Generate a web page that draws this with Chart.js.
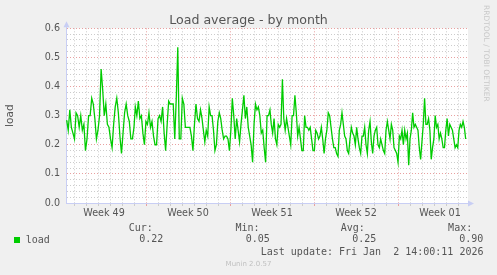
<!DOCTYPE html>
<html>

<head>
    <script src="https://cdn.jsdelivr.net/npm/chart.js@4.4.0/dist/chart.umd.min.js"></script>
    <style>
        body { margin: 0; background: #f0f0f0; }
        #wrap { position: relative; width: 497px; height: 275px; overflow: hidden; }
        #myChart { position: absolute; left: 0; top: 0; }
        .mono { position: absolute; font-family: "DejaVu Sans Mono", monospace; font-size: 10px; line-height: 12px; color: #555; white-space: pre; }
        .swatch { position: absolute; left: 14px; top: 237px; width: 6px; height: 6px; background: #00cc00; }
        #version { position: absolute; left: 0; width: 497px; top: 260px; text-align: center; font-family: "DejaVu Sans", sans-serif; font-size: 7px; line-height: 8px; color: #c0c0c0; }
        #rrd { position: absolute; left: 482px; top: 5px; writing-mode: vertical-rl; font-family: "DejaVu Sans", sans-serif; font-size: 7.5px; line-height: 9px; color: #c8c8c8; white-space: nowrap; }
    </style>
</head>

<body>
    <div id="wrap">
        <canvas id="myChart" width="497" height="275"></canvas>
        <div id="rrd">RRDTOOL / TOBI OETIKER</div>
        <div class="swatch"></div>
        <div class="mono" style="left:25.7px; top:233.5px;">load</div>
        <div id="stats"></div>
        <div class="mono" id="lastUpdate" style="right:13.5px; top:245.5px;"></div>
        <div id="version"></div>
    </div>
    <script>
        // x values are days since Mon Dec 1 00:00
        const weekLabels = ["Week 49", "Week 50", "Week 51", "Week 52", "Week 01"];
        const yTickLabels = ["0.0", "0.1", "0.2", "0.3", "0.4", "0.5", "0.6"];

        // sample blocks, each spread evenly between its start and end day
        const segStart = [0.389, 6.11, 11.78, 17.44, 23.11, 28.78];
        const segEnd = [6.0, 11.67, 17.33, 23.0, 28.67, 33.64];

        const load1 = [0.285, 0.25, 0.32, 0.26, 0.24, 0.22, 0.31, 0.30, 0.26, 0.30, 0.25, 0.27, 0.18, 0.22, 0.30,
            0.30, 0.36, 0.34, 0.29, 0.22, 0.25, 0.30, 0.46, 0.39, 0.30, 0.34, 0.27, 0.26, 0.22, 0.19,
            0.27, 0.33, 0.36, 0.31, 0.23, 0.17, 0.24, 0.31, 0.34, 0.30, 0.28, 0.22, 0.22, 0.26];
        const load2 = [0.33, 0.30, 0.35, 0.29, 0.30, 0.24, 0.20, 0.28, 0.27, 0.31, 0.26, 0.28, 0.23, 0.20, 0.20,
            0.29, 0.30, 0.28, 0.33, 0.24, 0.18, 0.27, 0.35, 0.34, 0.34, 0.34, 0.22, 0.36, 0.535, 0.22,
            0.22, 0.36, 0.34, 0.26, 0.26, 0.26, 0.26, 0.23, 0.18, 0.27, 0.34, 0.29, 0.28, 0.32, 0.29];
        const load3 = [0.25, 0.21, 0.25, 0.23, 0.33, 0.30, 0.30, 0.25, 0.18, 0.20, 0.28, 0.31, 0.29, 0.25, 0.22,
            0.23, 0.23, 0.22, 0.18, 0.25, 0.36, 0.30, 0.22, 0.29, 0.25, 0.21, 0.27, 0.32, 0.37, 0.29,
            0.33, 0.26, 0.23, 0.20, 0.14, 0.27, 0.34, 0.32, 0.33, 0.30, 0.24, 0.25, 0.19, 0.14, 0.30,
            0.30, 0.32];
        const load4 = [0.27, 0.24, 0.29, 0.22, 0.20, 0.27, 0.26, 0.27, 0.425, 0.29, 0.25, 0.29, 0.26, 0.23, 0.20,
            0.30, 0.30, 0.37, 0.31, 0.23, 0.26, 0.22, 0.18, 0.18, 0.30, 0.26, 0.26, 0.25, 0.26, 0.22,
            0.18, 0.18, 0.25, 0.24, 0.22, 0.23, 0.26, 0.22, 0.17, 0.22, 0.25, 0.31, 0.30, 0.26, 0.22,
            0.19, 0.19, 0.17, 0.16];
        const load5 = [0.25, 0.27, 0.31, 0.27, 0.23, 0.22, 0.18, 0.17, 0.22, 0.26, 0.24, 0.23, 0.20, 0.26, 0.22,
            0.19, 0.17, 0.23, 0.23, 0.26, 0.20, 0.17, 0.25, 0.28, 0.21, 0.17, 0.23, 0.25, 0.26, 0.20,
            0.19, 0.22, 0.20, 0.18, 0.17, 0.25, 0.28, 0.25, 0.22, 0.27, 0.25, 0.19, 0.18, 0.17, 0.14,
            0.23, 0.22, 0.25, 0.20, 0.25, 0.22];
        const load6 = [0.24, 0.13, 0.22, 0.25, 0.31, 0.26, 0.27, 0.26, 0.25, 0.19, 0.15, 0.21, 0.27, 0.36, 0.27,
            0.27, 0.29, 0.25, 0.15, 0.19, 0.22, 0.30, 0.26, 0.27, 0.22, 0.24, 0.22, 0.19, 0.19, 0.25,
            0.29, 0.23, 0.27, 0.26, 0.25, 0.22, 0.19, 0.20, 0.19, 0.25, 0.27, 0.26, 0.28, 0.26, 0.22];
        const loadBlocks = [load1, load2, load3, load4, load5, load6];

        const statNames = ["Cur:", "Min:", "Avg:", "Max:"];
        const statValues = ["0.22", "0.05", "0.25", "0.90"];
        const lastUpdate = "Last update: Fri Jan  2 14:00:11 2026";
        const version = "Munin 2.0.57";

        const red = "#e8a0a0";
        const gray = "#cccccc";
        const axisBlue = "#c8cef4";
        const tickFont = { family: "DejaVu Sans", size: 9.6 };

        // footer texts
        const labelRight = [152.9, 259.5, 364.9, 472.2];
        const valueRight = [163.3, 269.9, 376.3, 483.3];
        let html = "";
        statNames.forEach((n, i) => {
            html += '<div class="mono" style="right:' + (497 - labelRight[i]) + 'px; top:222.2px;">' + n + '</div>';
            html += '<div class="mono" style="right:' + (497 - valueRight[i]) + 'px; top:233.2px;">' + statValues[i] + '</div>';
        });
        document.getElementById("stats").innerHTML = html;
        document.getElementById("lastUpdate").textContent = lastUpdate;
        document.getElementById("version").textContent = version;

        const points = [];
        loadBlocks.forEach((block, s) => {
            const step = (segEnd[s] - segStart[s]) / (block.length - 1);
            block.forEach((v, i) => points.push({ x: segStart[s] + i * step, y: v }));
        });

        const muninPlugin = {
            id: "munin",
            beforeDraw(chart) {
                const { ctx, chartArea: a } = chart;
                ctx.save();
                ctx.fillStyle = "#ffffff";
                ctx.fillRect(a.left, a.top, a.right - a.left, a.bottom - a.top);
                ctx.restore();
            },
            afterDraw(chart) {
                const { ctx, chartArea: a } = chart;
                ctx.save();
                ctx.strokeStyle = axisBlue;
                ctx.fillStyle = axisBlue;
                ctx.lineWidth = 1;
                ctx.beginPath();
                ctx.moveTo(a.left + 0.5, a.top);
                ctx.lineTo(a.left + 0.5, a.top - 2);
                ctx.stroke();
                // arrow heads
                ctx.beginPath();
                ctx.moveTo(a.left + 0.5, a.top - 7);
                ctx.lineTo(a.left - 2.5, a.top - 1);
                ctx.lineTo(a.left + 3.5, a.top - 1);
                ctx.closePath();
                ctx.fill();
                ctx.beginPath();
                ctx.moveTo(a.right + 6, a.bottom + 0.5);
                ctx.lineTo(a.right, a.bottom - 2.5);
                ctx.lineTo(a.right, a.bottom + 3.5);
                ctx.closePath();
                ctx.fill();
                ctx.restore();
            }
        };

        new Chart(document.getElementById("myChart"), {
            type: "line",
            data: {
                datasets: [{
                    label: "load",
                    data: points,
                    borderColor: "#00cc00",
                    borderWidth: 1.3,
                    pointRadius: 0,
                    tension: 0,
                    fill: false
                }]
            },
            options: {
                responsive: false,
                animation: false,
                layout: { padding: { left: 0, top: 0, right: 0, bottom: 52 } },
                plugins: {
                    legend: { display: false },
                    tooltip: { enabled: false },
                    title: {
                        display: true,
                        text: "Load average - by month",
                        color: "#555",
                        font: { family: "DejaVu Sans", size: 12.6, weight: "normal" },
                        padding: { top: 13, bottom: 0.2 }
                    }
                },
                scales: {
                    x: {
                        type: "linear",
                        min: 1 / 3,
                        max: 33.8333,
                        afterBuildTicks: s => {
                            const t = [];
                            for (let d = 1; d <= 33; d++) t.push({ value: d });
                            weekLabels.forEach((w, k) => t.push({ value: 3.5 + 7 * k }));
                            t.sort((a, b) => a.value - b.value);
                            s.ticks = t;
                        },
                        afterFit: s => { s.height = 20; },
                        ticks: {
                            autoSkip: false,
                            maxRotation: 0,
                            padding: 2,
                            color: "#555",
                            font: tickFont,
                            callback: v => Number.isInteger(v) ? "" : weekLabels[Math.floor(v / 7)]
                        },
                        grid: {
                            tickLength: 3,
                            color: c => {
                                const v = c.tick ? c.tick.value : 0;
                                if (!Number.isInteger(v)) return "rgba(0,0,0,0)";
                                return v % 7 === 0 ? red : gray;
                            }
                        },
                        border: { color: axisBlue, dash: [1, 2] }
                    },
                    y: {
                        min: 0,
                        max: 0.6,
                        afterBuildTicks: s => {
                            const t = [];
                            for (let i = 0; i <= 30; i++) t.push({ value: i / 50 });
                            s.ticks = t;
                        },
                        afterFit: s => { s.width = 66; },
                        ticks: {
                            autoSkip: false,
                            padding: 6,
                            color: "#555",
                            font: tickFont,
                            callback: v => {
                                const k = Math.round(v * 50);
                                return k % 5 === 0 ? yTickLabels[k / 5] : "";
                            }
                        },
                        grid: {
                            drawTicks: false,
                            color: c => {
                                const k = c.tick ? Math.round(c.tick.value * 50) : 0;
                                if (k === 0) return "rgba(0,0,0,0)";
                                return k % 5 === 0 ? red : gray;
                            }
                        },
                        border: { color: axisBlue, dash: [1, 2] },
                        title: {
                            display: true,
                            text: "load",
                            color: "#555",
                            font: { family: "DejaVu Sans", size: 10.5 },
                            padding: { top: 4, bottom: 0 }
                        }
                    },
                    // empty right gutter, keeps the title centred on the whole image
                    gutter: {
                        type: "linear",
                        position: "right",
                        display: true,
                        grid: { display: false, drawTicks: false },
                        ticks: { display: false },
                        border: { display: false },
                        afterFit: s => { s.width = 29; }
                    }
                }
            },
            plugins: [muninPlugin]
        });
    </script>
</body>

</html>
